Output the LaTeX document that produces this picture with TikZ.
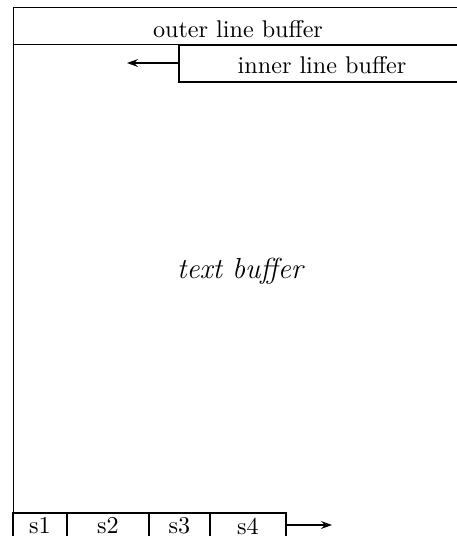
\documentclass[tikz,border=0pt]{standalone}
\usetikzlibrary{arrows.meta}
\begin{document}
\begin{tikzpicture}[x=0.414pt,y=-0.414pt,
  thinline/.style={line width=0.4pt},
  thickline/.style={line width=0.9pt},
  arr/.style={line width=0.6pt,-{Stealth[length=4.5pt,width=3.2pt]}}]
\useasboundingbox (0,0) rectangle (457,536);
\clip (0,0) rectangle (457,536);
% outer line buffer
\draw[thinline] (13,7) rectangle (480,44);
\node (outer) at (238,29) {outer line buffer};
% text buffer area
\draw[thinline] (13,44) rectangle (480,560);
\node (text) at (240,271) {\large\itshape text buffer};
% inner line buffer
\draw[thickline] (179,45) rectangle (480,82);
\coordinate (innerW) at (179,63);
\node (inner) at (322,65) {inner line buffer};
\coordinate (innerEnd) at (127,63);
\draw[arr] (innerW) -- (innerEnd);
% stack
\draw[thickline] (13,513) rectangle (67,560);
\draw[thickline] (67,513) rectangle (149,560);
\draw[thickline] (149,513) rectangle (210,560);
\draw[thickline] (210,513) rectangle (286,560);
\node (s1) at (40,526) {s1};
\node (s2) at (108,526) {s2};
\node (s3) at (179.5,526) {s3};
\node (s4) at (248,526) {s4};
\coordinate (stackE) at (286,525);
\coordinate (stackEnd) at (332,525);
\draw[arr] (stackE) -- (stackEnd);
\end{tikzpicture}
\end{document}
